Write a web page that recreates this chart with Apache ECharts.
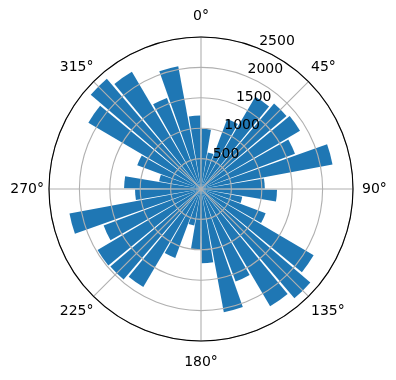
<!DOCTYPE html>
<html>
<head>
<meta charset="utf-8">
<script src="https://cdn.jsdelivr.net/npm/echarts@6/dist/echarts.min.js"></script>
<style>
html,body{margin:0;padding:0;background:#fff;}
#chart{width:396px;height:380px;}
</style>
</head>
<body>
<div id="chart"></div>
<script>
// Bar centre directions (degrees, clockwise from north)
const directions = ['5','15','25','35','45','55','65','75','85',
  '95','105','115','125','135','145','155','165','175',
  '185','195','205','215','225','235','245','255','265',
  '275','285','295','305','315','325','335','345','355'];
// Bar lengths (radial values)
const counts = [990, 610, 1230, 1760, 1850, 1890, 1650, 2200, 1050,
  1250, 690, 1135, 2150, 2365, 2240, 1625, 2060, 1220,
  1000, 610, 1210, 1870, 1960, 1975, 1710, 2200, 1085,
  1265, 700, 1120, 2150, 2385, 2240, 1600, 2055, 1210];
// Angle tick labels (every 45 degrees, clockwise from north)
const angleTickLabels = ['0°','45°','90°','135°','180°','225°','270°','315°'];
// Radial tick labels
const radiusTickLabels = ['500','1000','1500','2000','2500'];

const FONT = 'DejaVu Sans';
const C = [201, 189];
const R = 152;

function angleLabel(offsetDeg) {
  return function (v) {
    if (v >= 360) return '';
    return angleTickLabels[Math.round(((v + offsetDeg) % 360) / 45)];
  };
}
function hiddenRadius(i) {
  return {polarIndex: i, type: 'value', min: 0, max: 2500, show: false};
}
function labelAngleAxis(i, startAngle, interval, offsetDeg, margin, padding) {
  return {polarIndex: i, type: 'value', min: 0, max: 360, interval: interval,
    startAngle: startAngle, clockwise: true, z: 8,
    axisLine: {show: false}, axisTick: {show: false}, splitLine: {show: false},
    axisLabel: {show: true, color: '#000', fontSize: 14, fontFamily: FONT,
      margin: margin, padding: padding, formatter: angleLabel(offsetDeg)}};
}

const chart = echarts.init(document.getElementById('chart'), null, {renderer: 'canvas'});
chart.setOption({
  animation: false,
  backgroundColor: '#ffffff',
  polar: [
    {center: C, radius: R},
    {center: C, radius: R},
    {center: C, radius: R},
    {center: C, radius: R},
    {center: C, radius: R},
    {center: C, radius: R}
  ],
  angleAxis: [
    {polarIndex: 0, type: 'category', data: directions, startAngle: 90, clockwise: true,
     boundaryGap: true, show: false},
    {polarIndex: 1, type: 'value', min: 0, max: 360, interval: 45, startAngle: 90, clockwise: true,
     z: 6,
     axisLine: {show: true, lineStyle: {color: '#000', width: 1.1}},
     axisTick: {show: false},
     splitLine: {show: true, lineStyle: {color: '#b0b0b0', width: 1.1}},
     axisLabel: {show: false}},
    {polarIndex: 2, type: 'value', min: 0, max: 360, startAngle: 67.5, clockwise: true, show: false},
    // 0° and 180°
    labelAngleAxis(3, 90, 180, 0, 14, 0),
    // 90° and 270°
    labelAngleAxis(4, 0, 180, 90, 5, [0, 0, 0, 4]),
    // diagonals
    labelAngleAxis(5, 45, 90, 45, 0, [7.5, 0, 7.5, 2.5])
  ],
  radiusAxis: [
    hiddenRadius(0),
    {polarIndex: 1, type: 'value', min: 0, max: 2500, interval: 500, z: 5,
     axisLine: {show: false}, axisTick: {show: false}, axisLabel: {show: false},
     splitLine: {show: true, lineStyle: {color: '#b0b0b0', width: 1.1}}},
    {polarIndex: 2, type: 'value', min: 0, max: 2500, interval: 500, z: 7,
     axisLine: {show: false}, axisTick: {show: false}, splitLine: {show: false},
     axisLabel: {show: true, color: '#000', fontSize: 14, fontFamily: FONT, margin: 0,
       align: 'left', verticalAlign: 'bottom',
       formatter: function (v) { return v === 0 ? '' : radiusTickLabels[Math.round(v / 500) - 1]; }}},
    hiddenRadius(3),
    hiddenRadius(4),
    hiddenRadius(5)
  ],
  series: [{
    type: 'bar',
    coordinateSystem: 'polar',
    polarIndex: 0,
    data: counts,
    barCategoryGap: '10%',
    itemStyle: {color: '#1f77b4'},
    z: 2
  }]
});
</script>
</body>
</html>
